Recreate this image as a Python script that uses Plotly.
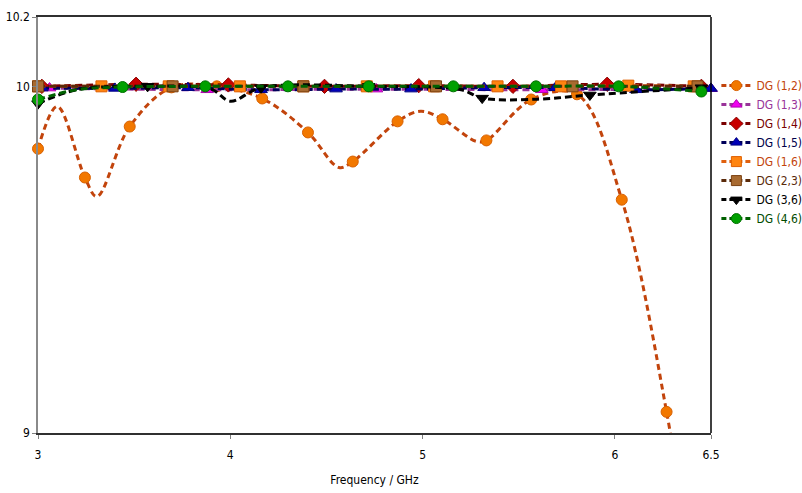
import plotly.graph_objects as go

# ---------------- data ----------------
x_ticks = [3, 4, 5, 6, 6.5]
x_tick_labels = ["3", "4", "5", "6", "6.5"]
y_ticks = [9, 10, 10.2]
y_tick_labels = ["9", "10", "10.2"]

# DG (1,2): smoothed curve vertices and marker points
dg12_curve_x = [3.0, 3.10, 3.244, 3.306, 3.477, 3.694, 3.93, 4.166, 4.404, 4.565, 4.637,
                4.870, 4.99, 5.104, 5.28, 5.332, 5.565, 5.803, 6.036, 6.269, 6.33]
dg12_curve_y = [9.82, 9.942, 9.737, 9.682, 9.884, 9.997, 10.0, 9.965, 9.867, 9.766, 9.783,
                9.899, 9.928, 9.905, 9.841, 9.844, 9.962, 9.977, 9.673, 9.061, 8.85]
dg12_mark_x = [3.0, 3.244, 3.477, 3.694, 3.93, 4.166, 4.404, 4.637, 4.870, 5.104, 5.332,
               5.565, 5.803, 6.036, 6.269]
dg12_mark_y = [9.82, 9.737, 9.884, 9.997, 10.0, 9.965, 9.867, 9.783, 9.899, 9.905, 9.844,
               9.962, 9.977, 9.673, 9.061]

dg13_x = [3.06, 3.88, 4.76, 5.62, 6.50]
dg13_y = [9.995, 9.99, 9.992, 9.99, 9.993]

dg14_x = [3.02, 3.51, 3.99, 4.49, 4.98, 5.47, 5.96, 6.45]
dg14_y = [10.0, 10.006, 10.004, 10.0, 10.002, 10.0, 10.006, 10.0]

dg15_x = [3.02, 3.40, 3.78, 4.16, 4.55, 4.94, 5.32, 5.69, 6.11, 6.50]
dg15_y = [9.995, 9.994, 9.996, 9.99, 9.992, 9.992, 9.996, 9.996, 9.99, 9.994]

dg16_x = [3.0, 3.33, 3.68, 4.05, 4.38, 4.71, 5.06, 5.39, 5.72, 6.07, 6.41]
dg16_y = [10.0, 10.0, 10.0, 10.0, 10.0, 10.0, 10.0, 10.0, 10.0, 10.002, 10.0]

dg23_x = [3.0, 3.70, 4.38, 5.07, 5.78, 6.43]
dg23_y = [10.0, 10.0, 10.0, 10.0, 10.0, 10.0]

dg36_curve_x = [3.0, 3.20, 3.57, 3.90, 4.00, 4.16, 4.72, 5.20, 5.31, 5.60, 5.87, 6.20, 6.45]
dg36_curve_y = [9.95, 9.99, 10.0, 9.992, 9.957, 9.996, 10.0, 9.99, 9.966, 9.963, 9.975, 9.987, 9.996]
dg36_mark_x = [3.0, 3.57, 4.16, 4.72, 5.31, 5.87, 6.45]
dg36_mark_y = [9.95, 10.0, 9.996, 10.0, 9.966, 9.975, 9.996]

dg46_curve_x = [3.0, 3.20, 3.44, 3.87, 4.30, 4.72, 5.16, 5.59, 6.02, 6.45]
dg46_curve_y = [9.962, 9.99, 9.998, 10.0, 10.0, 10.0, 10.0, 10.0, 10.0, 9.985]
dg46_mark_x = [3.0, 3.44, 3.87, 4.30, 4.72, 5.16, 5.59, 6.02, 6.45]
dg46_mark_y = [9.962, 9.998, 10.0, 10.0, 10.0, 10.0, 10.0, 10.0, 9.985]

names = ["DG (1,2)", "DG (1,3)", "DG (1,4)", "DG (1,5)", "DG (1,6)", "DG (2,3)", "DG (3,6)", "DG (4,6)"]

# ---------------- styles ----------------
FONT = "DejaVu Sans Condensed, Liberation Sans Narrow, sans-serif"

series = [
    dict(cx=dg12_curve_x, cy=dg12_curve_y, mx=dg12_mark_x, my=dg12_mark_y,
         line="#C2440C", mfill="#F27800", medge="#D86000", sym="circle", size=11, text="#C2440C"),
    dict(cx=dg13_x, cy=dg13_y, mx=dg13_x, my=dg13_y,
         line="#993399", mfill="#F000F0", medge="#B000B0", sym="triangle-up", size=11, text="#993399"),
    dict(cx=dg14_x, cy=dg14_y, mx=dg14_x, my=dg14_y,
         line="#7A0000", mfill="#C80000", medge="#8A0000", sym="diamond", size=11, text="#7A0000"),
    dict(cx=dg15_x, cy=dg15_y, mx=dg15_x, my=dg15_y,
         line="#00005A", mfill="#0000B8", medge="#000080", sym="triangle-up", size=11, text="#00004A"),
    dict(cx=dg16_x, cy=dg16_y, mx=dg16_x, my=dg16_y,
         line="#E0600E", mfill="#FF8410", medge="#E06000", sym="square", size=11, text="#C2440C"),
    dict(cx=dg23_x, cy=dg23_y, mx=dg23_x, my=dg23_y,
         line="#5A2A0A", mfill="#A86A30", medge="#7A4010", sym="square", size=11, text="#5A2A0A"),
    dict(cx=dg36_curve_x, cy=dg36_curve_y, mx=dg36_mark_x, my=dg36_mark_y,
         line="#000000", mfill="#000000", medge="#000000", sym="triangle-down", size=11, text="#000000"),
    dict(cx=dg46_curve_x, cy=dg46_curve_y, mx=dg46_mark_x, my=dg46_mark_y,
         line="#006000", mfill="#00A000", medge="#007000", sym="circle", size=11, text="#004A00"),
]

fig = go.Figure()
for name, s in zip(names, series):
    dash = "6px,4px" if name == "DG (1,2)" else "7px,4px"
    fig.add_trace(go.Scatter(
        x=s["cx"], y=s["cy"], mode="lines", line=dict(color=s["line"], width=3, dash=dash,
                                                      shape="spline", smoothing=1.0),
        showlegend=False, hoverinfo="skip"))
    fig.add_trace(go.Scatter(
        x=s["mx"], y=s["my"], mode="markers",
        marker=dict(symbol=s["sym"], size=s["size"], color=s["mfill"],
                    line=dict(color=s["medge"], width=1)),
        showlegend=False, cliponaxis=False))
    fig.add_trace(go.Scatter(
        x=[None], y=[None], mode="lines+markers",
        name=f'<span style="color:{s["text"]}">{name}</span>',
        line=dict(color=s["line"], width=3, dash="5px,3px"),
        marker=dict(symbol=s["sym"], size=10, color=s["mfill"],
                    line=dict(color=s["medge"], width=1))))

fig.update_layout(
    width=802, height=493,
    margin=dict(l=38, r=91, t=17, b=60, autoexpand=False),
    plot_bgcolor="white", paper_bgcolor="white",
    font=dict(family=FONT, size=12, color="#000000"),
    showlegend=True,
    legend=dict(x=1.008, xanchor="left", y=0.87, yanchor="top",
                font=dict(family=FONT, size=12), bgcolor="rgba(0,0,0,0)",
                itemwidth=30, tracegroupgap=0),
    xaxis=dict(range=[3, 6.5], tickmode="array", tickvals=x_ticks, ticktext=x_tick_labels,
               showgrid=False, zeroline=False, showline=True, linecolor="#303030", linewidth=1.5,
               mirror=True, ticks="outside", ticklen=4, tickcolor="#808080", ticklabelstandoff=6,
               title=dict(text="Frequency / GHz", font=dict(family=FONT, size=12), standoff=14)),
    yaxis=dict(range=[9, 10.2], tickmode="array", tickvals=y_ticks, ticktext=y_tick_labels,
               showgrid=False, zeroline=False, showline=True, linecolor="#8A8A8A", linewidth=1.5,
               ticks="outside", ticklen=4, tickcolor="#808080"),
    shapes=[dict(type="line", xref="paper", yref="paper", x0=1, x1=1, y0=0, y1=1,
                 line=dict(color="#000000", width=1.5))],
)

fig.write_html("out.html")
